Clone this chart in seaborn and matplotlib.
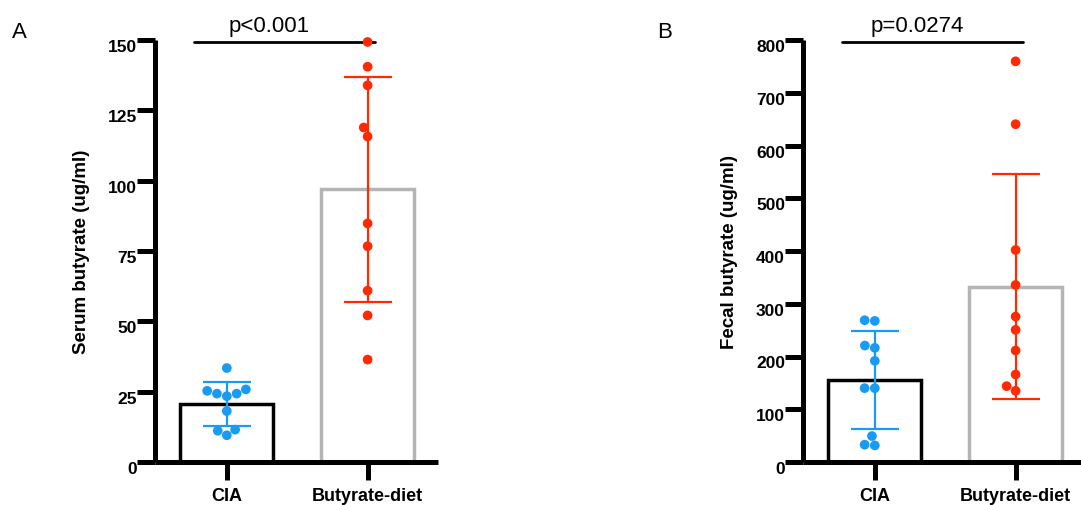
import numpy as np
import pandas as pd
import seaborn as sns
from matplotlib import pyplot as plt
from matplotlib.transforms import ScaledTranslation

sns.set_style('white')
plt.rcParams['font.family'] = ['Liberation Sans', 'DejaVu Sans']
plt.rcParams['text.color'] = 'black'
plt.rcParams['axes.labelcolor'] = 'black'
plt.rcParams['xtick.color'] = 'black'
plt.rcParams['ytick.color'] = 'black'

groups = ['CIA', 'Butyrate-diet']

# serum butyrate (ug/ml)
serum_cia = [33.4, 25.8, 24.3, 23.4, 24.3, 25.3, 18.1, 11.5, 9.5, 11.1]
serum_but = [149.3, 140.5, 133.9, 118.9, 115.7, 84.8, 76.7, 60.9, 52.1, 36.4]

# fecal butyrate (ug/ml)
fecal_cia = [267.5, 268.8, 220.8, 216.4, 191.8, 140.0, 140.0, 49.2, 31.5, 32.8]
fecal_but = [759.6, 640.4, 401.9, 335.6, 275.7, 250.5, 211.4, 165.9, 135.0, 143.8]

serum_ticks = [0, 25, 50, 75, 100, 125, 150]
fecal_ticks = [0, 100, 200, 300, 400, 500, 600, 700, 800]

p_labels = ['p<0.001', 'p=0.0274']

BAR_EDGE = {'CIA': 'black', 'Butyrate-diet': '#b4b4b4'}
DOT = {'CIA': '#1a9bf3', 'Butyrate-diet': '#ff2a00'}

W, H = 1081, 506
fig = plt.figure(figsize=(W / 100, H / 100), dpi=100)


def make_df(a, b):
    return pd.DataFrame({'group': [groups[0]] * len(a) + [groups[1]] * len(b),
                         'value': list(a) + list(b)})


def panel(rect, df, ticks, ylabel, ptext, letter, letter_x):
    ax = fig.add_axes(rect)
    sns.barplot(data=df, x='group', y='value', hue='group', order=groups,
                palette=BAR_EDGE, fill=False, errorbar=None, width=0.66,
                linewidth=2.5, legend=False, ax=ax)
    # mean +/- SD in the dot colour
    for i, g in enumerate(groups):
        v = df.loc[df['group'] == g, 'value']
        ax.errorbar(i, v.mean(), yerr=v.std(), color=DOT[g], elinewidth=1.6,
                    capsize=17, capthick=1.6, zorder=3)
    sns.swarmplot(data=df, x='group', y='value', hue='group', order=groups,
                  palette=DOT, size=7, linewidth=0, legend=False, ax=ax, zorder=4)
    for c in ax.collections:
        c.set_clip_on(False)

    top = ticks[-1]
    ax.set_ylim(0, top)
    ax.set_xlim(-0.51, 1.5)
    ax.set_yticks(ticks)
    ax.set_yticklabels([str(t) for t in ticks], fontweight='bold', fontsize=12.5)
    ax.set_xticks([0, 1])
    ax.set_xticklabels(groups, fontweight='bold', fontsize=13)
    ax.set_xlabel('')
    ax.set_ylabel(ylabel, fontweight='bold', fontsize=13.5, labelpad=13)
    ax.tick_params(axis='y', left=True, length=13, width=3.6, pad=0)
    ax.tick_params(axis='x', bottom=True, length=13, width=3.6, pad=5)
    for lbl in ax.get_yticklabels():
        lbl.set_transform(lbl.get_transform() + ScaledTranslation(0, -0.05, fig.dpi_scale_trans))
    sns.despine(ax=ax)
    for s in ['left', 'bottom']:
        ax.spines[s].set_linewidth(3.6)
        ax.spines[s].set_color('black')
        ax.spines[s].set_capstyle('butt')
    ax.patch.set_alpha(0)

    # significance bar
    ax.plot([-0.23, 1.05], [top * 0.995, top * 0.995], color='black', lw=2, clip_on=False, zorder=2)
    ax.annotate(ptext, (0.3, top * 0.995), xytext=(0, 8), textcoords='offset points',
                ha='center', va='baseline', fontsize=16)
    fig.text(letter_x, 1 - 32 / H, letter, ha='left', va='center', fontsize=16)
    return ax


ax_a = panel([155 / W, 43 / H, 283 / W, 422 / H], make_df(serum_cia, serum_but),
             serum_ticks, 'Serum butyrate (ug/ml)', p_labels[0], 'A', 12 / W)
ax_b = panel([803 / W, 43 / H, 283 / W, 422 / H], make_df(fecal_cia, fecal_but),
             fecal_ticks, 'Fecal butyrate (ug/ml)', p_labels[1], 'B', 657 / W)

fig.savefig('out.png', dpi=100)
